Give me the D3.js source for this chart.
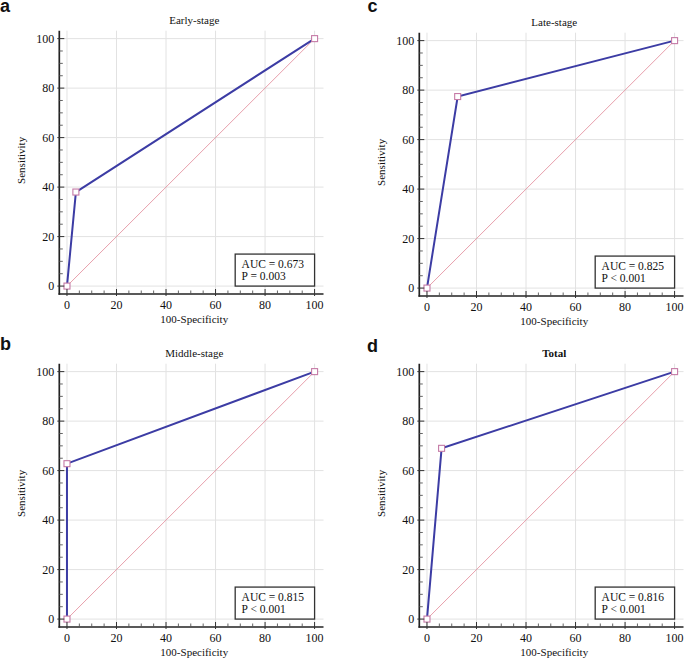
<!DOCTYPE html>
<html><head><meta charset="utf-8">
<script src="https://cdn.jsdelivr.net/npm/d3@7"></script>
<style>
html,body{margin:0;padding:0;background:#fff;}
svg{display:block;}
</style></head>
<body>
<svg id="chart" width="685" height="660"></svg>
<script>
// ---- data ----
const panelLetters = ["a", "b", "c", "d"];
const panelTitles = ["Early-stage", "Middle-stage", "Late-stage", "Total"];
const rocX = [[0, 3.6, 100], [0, 0, 100], [0, 12.4, 100], [0, 5.9, 100]];
const rocY = [[0, 38, 100], [0, 62.8, 100], [0, 77.4, 100], [0, 69, 100]];
const aucLabels = ["AUC = 0.673", "AUC = 0.815", "AUC = 0.825", "AUC = 0.816"];
const pLabels = ["P = 0.003", "P < 0.001", "P < 0.001", "P < 0.001"];
const majorTicks = [0, 20, 40, 60, 80, 100];
const minorTicks = d3.range(0, 101, 5).filter(v => v % 20 !== 0);
const refLine = [[0, 0], [100, 100]];
const xLabel = "100-Specificity";
const yLabel = "Sensitivity";

// ---- layout ----
const offsets = [[0, 0], [0, 333], [360, 2], [360, 333]];
const letterPos = [[0, 12], [0, 350], [367.5, 12.3], [367, 351.5]];
const serif = "'Liberation Serif','Times New Roman',serif";
const svg = d3.select("#chart");

panelLetters.forEach((L, i) => {
  const [ox, oy] = offsets[i];
  const g = svg.append("g").attr("transform", `translate(${ox},${oy})`);
  const x = d3.scaleLinear().domain([-3.1, 103.6]).range([59.3, 323.5]);
  const y = d3.scaleLinear().domain([-3.2, 103.2]).range([294, 30.7]);
  const [x0, x1] = x.range();
  const [y0, y1] = y.range();
  const line = d3.line().x(d => x(d[0])).y(d => y(d[1]));

  // grid
  g.append("g").selectAll("line.v").data(majorTicks).join("line")
    .attr("x1", d => x(d)).attr("x2", d => x(d)).attr("y1", y0).attr("y2", y1)
    .attr("stroke", "#e2e2e2").attr("stroke-width", 1);
  g.append("g").selectAll("line.h").data(majorTicks).join("line")
    .attr("x1", x0).attr("x2", x1).attr("y1", d => y(d)).attr("y2", d => y(d))
    .attr("stroke", "#e2e2e2").attr("stroke-width", 1);

  // diagonal reference line
  g.append("path").datum(refLine).attr("d", line)
    .attr("fill", "none").attr("stroke", "#e38e9c").attr("stroke-opacity", 0.85)
    .attr("stroke-width", 1);

  // ROC curve
  const pts = rocX[i].map((v, k) => [v, rocY[i][k]]);
  g.append("path").datum(pts).attr("d", line)
    .attr("fill", "none").attr("stroke", "#3c3ca4").attr("stroke-width", 2);
  g.append("g").selectAll("rect").data(pts).join("rect")
    .attr("x", d => x(d[0]) - 3).attr("y", d => y(d[1]) - 3)
    .attr("width", 6).attr("height", 6)
    .attr("fill", "#fff").attr("stroke", "#c57aa6").attr("stroke-width", 1.1);

  // axes lines
  g.append("line").attr("x1", x0).attr("x2", x0).attr("y1", y1).attr("y2", y0 + 0.8)
    .attr("stroke", "#222").attr("stroke-width", 1.7);
  g.append("line").attr("x1", x0 - 0.8).attr("x2", x1).attr("y1", y0).attr("y2", y0)
    .attr("stroke", "#222").attr("stroke-width", 1.7);

  // ticks
  g.append("g").selectAll("line").data(majorTicks).join("line")
    .attr("x1", d => x(d)).attr("x2", d => x(d)).attr("y1", y0 + 2).attr("y2", y0 - 5)
    .attr("stroke", "#333").attr("stroke-width", 1);
  g.append("g").selectAll("line").data(minorTicks).join("line")
    .attr("x1", d => x(d)).attr("x2", d => x(d)).attr("y1", y0).attr("y2", y0 - 3.5)
    .attr("stroke", "#555").attr("stroke-width", 0.9);
  g.append("g").selectAll("line").data(majorTicks).join("line")
    .attr("y1", d => y(d)).attr("y2", d => y(d)).attr("x1", x0 - 2).attr("x2", x0 + 5)
    .attr("stroke", "#333").attr("stroke-width", 1);
  g.append("g").selectAll("line").data(minorTicks).join("line")
    .attr("y1", d => y(d)).attr("y2", d => y(d)).attr("x1", x0).attr("x2", x0 + 3.5)
    .attr("stroke", "#555").attr("stroke-width", 0.9);

  // tick labels
  g.append("g").selectAll("text").data(majorTicks).join("text")
    .attr("x", d => x(d)).attr("y", y0 + 14.5)
    .attr("text-anchor", "middle").attr("font-family", serif).attr("font-size", 12)
    .attr("fill", "#111").text(d => d);
  g.append("g").selectAll("text").data(majorTicks).join("text")
    .attr("x", x0 - 5).attr("y", d => y(d) + 4)
    .attr("text-anchor", "end").attr("font-family", serif).attr("font-size", 12)
    .attr("fill", "#111").text(d => d);

  // axis titles
  g.append("text").attr("x", x(50) + 3.5).attr("y", y0 + 29.3)
    .attr("text-anchor", "middle").attr("font-family", serif).attr("font-size", 11)
    .attr("fill", "#111").text(xLabel);
  g.append("text").attr("transform", `translate(24.5,${y(50) - 2}) rotate(-90)`)
    .attr("text-anchor", "middle").attr("font-family", serif).attr("font-size", 11)
    .attr("fill", "#111").text(yLabel);

  // panel title
  g.append("text").attr("x", x(50) + 3.5).attr("y", 23.5)
    .attr("text-anchor", "middle").attr("font-family", serif).attr("font-size", 11)
    .attr("font-weight", i === 3 ? "bold" : "normal")
    .attr("fill", "#111").text(panelTitles[i]);

  // AUC box
  const bw = 79.4, bh = 32;
  g.append("rect").attr("x", x(100) - bw).attr("y", y(0) - bh)
    .attr("width", bw).attr("height", bh)
    .attr("fill", "#fff").attr("stroke", "#333").attr("stroke-width", 1.3);
  g.append("text").attr("x", x(100) - bw + 6.4).attr("y", y(0) - 18.3)
    .attr("font-family", serif).attr("font-size", 11.5).attr("fill", "#111").text(aucLabels[i]);
  g.append("text").attr("x", x(100) - bw + 6.4).attr("y", y(0) - 6)
    .attr("font-family", serif).attr("font-size", 11.5).attr("fill", "#111").text(pLabels[i]);

  // panel letter
  svg.append("text").attr("x", letterPos[i][0]).attr("y", letterPos[i][1])
    .attr("font-family", "'Liberation Sans',Arial,sans-serif").attr("font-weight", "bold")
    .attr("font-size", 18).attr("fill", "#111").text(L);
});
</script>
</body></html>
